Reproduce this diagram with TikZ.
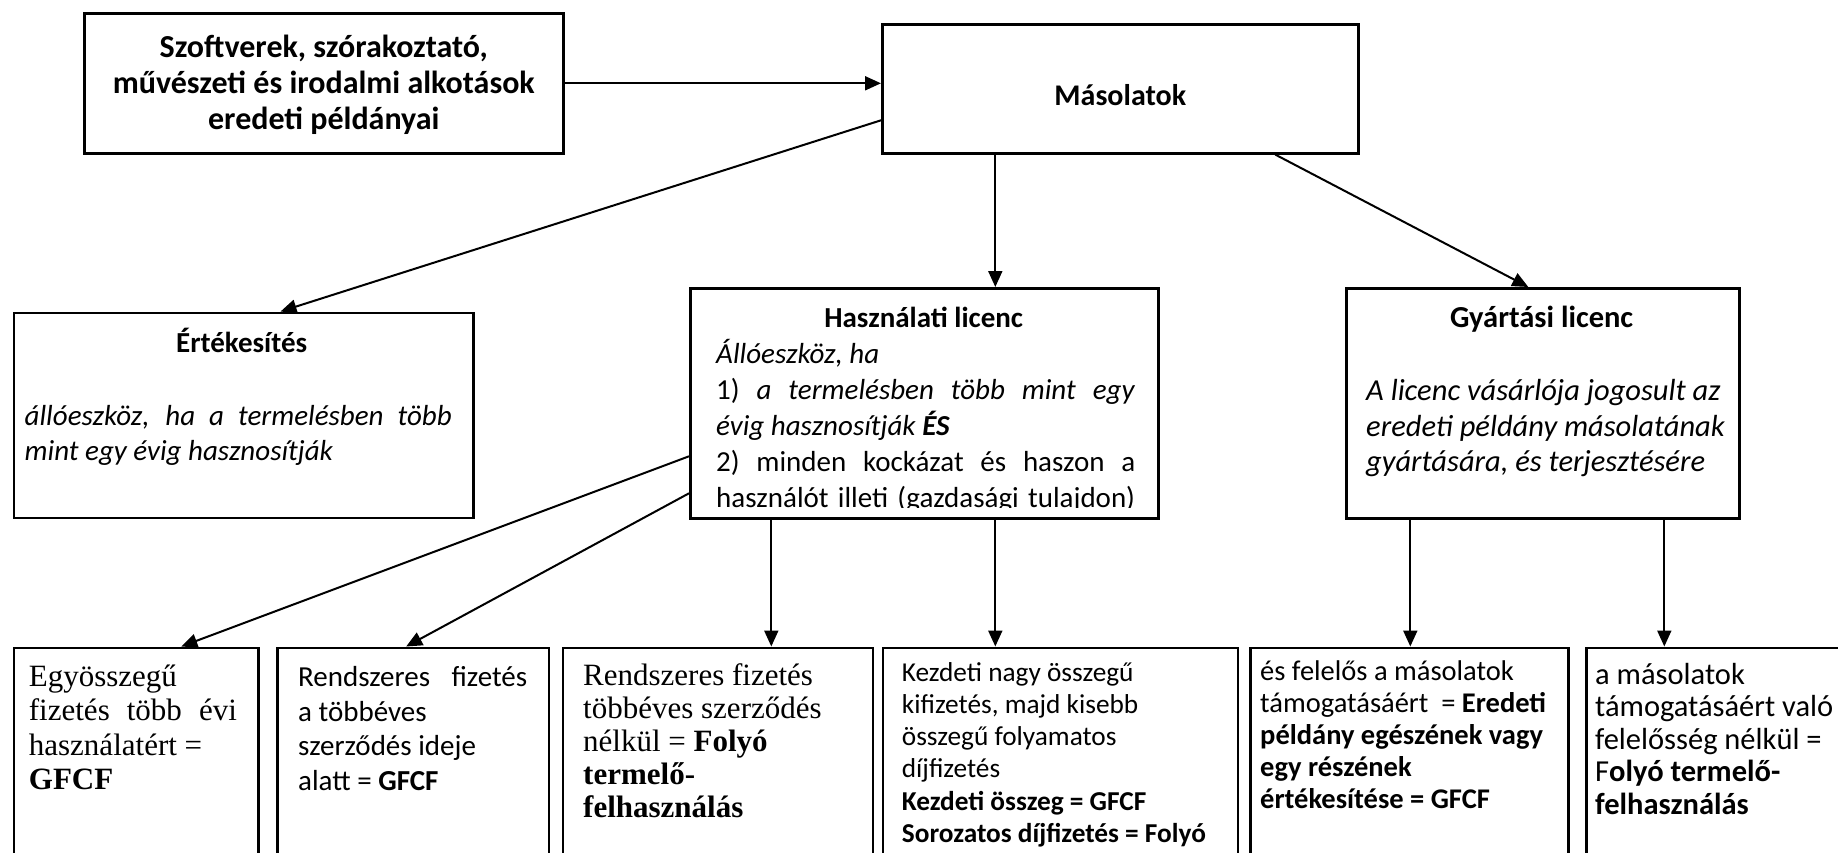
\documentclass[tikz,border=0pt]{standalone}
\usepackage{fontspec}
\setmainfont{Carlito}
\newfontfamily\cambria{Liberation Serif}
\usetikzlibrary{arrows.meta, positioning}

% a line stretched over the whole text width, and a centred line
\newcommand{\fullline}[1]{\makebox[\hsize][s]{#1}}
\newcommand{\midline}[1]{\makebox[\hsize]{#1}}

\tikzset{
  box/.style={draw, line width=2.6pt, anchor=north west, inner sep=0pt},
  txt/.style={anchor=base west, inner sep=0pt, align=justify},
  arr/.style={line width=2pt, -{Triangle[length=16pt,width=14pt]}},
}

\begin{document}
\begin{tikzpicture}[x=1pt, y=-1pt]
\useasboundingbox (0,0) rectangle (1838,853);
\clip (0,0) rectangle (1838,853);

% top row
\node[box, minimum width=479pt, minimum height=140pt] (src) at (83,12) {};
\node[box, minimum width=476pt, minimum height=129pt] (copies) at (881,23) {};
\node[font=\fontsize{32}{36}\selectfont\bfseries, align=center] (srctext) at ([yshift=-1pt]src.center)
  {Szoftverek, szórakoztató,\\ művészeti és irodalmi alkotások\\ eredeti példányai};
\node[font=\fontsize{30}{36}\selectfont\bfseries] (copiestext) at ([yshift=-6pt]copies.center) {Másolatok};

% middle row
\node[box, minimum width=459.5pt, minimum height=205pt] (sale) at (12.5,311.5) {};
\node[box, minimum width=468pt, minimum height=230pt] (uselic) at (689,287) {};
\node[box, minimum width=393pt, minimum height=230pt] (prodlic) at (1345,287) {};

\node[below right=40.5pt and 12pt of sale.north west, txt, text width=427pt,
      font=\fontsize{29}{35}\selectfont] (saletext)
  {\midline{\hspace{7pt}\textbf{Értékesítés}}\\[38pt]
   \fullline{\textit{állóeszköz, ha a termelésben több}}\\
   \textit{mint egy évig hasznosítják}};

\begin{scope}
\clip (uselic.north west) rectangle ([yshift=12pt]uselic.south east);
\node[below right=40pt and 27pt of uselic.north west, txt, text width=419pt,
      font=\fontsize{29}{36}\selectfont] (usetext)
  {\midline{\hspace{-4pt}\textbf{Használati licenc}}\\
   \textit{Állóeszköz, ha}\\
   \fullline{1) \textit{a termelésben több mint egy}}\\
   \textit{évig hasznosítják \textbf{ÉS}}\\
   \fullline{2) minden kockázat és haszon a}\\
   \fullline{használót illeti (gazdasági tulajdon)}};
\end{scope}

\node[below right=40pt and 21pt of prodlic.north west, txt, text width=372pt,
      font=\fontsize{30.5}{35.5}\selectfont] (prodtext)
  {\midline{\hspace{-21pt}\textbf{Gyártási licenc}}\\[38pt]
   \textit{A licenc vásárlója jogosult az}\\
   \textit{eredeti példány másolatának}\\
   \textit{gyártására, és terjesztésére}};

% bottom row
\node[box, minimum width=244.6pt, minimum height=260pt] (b1) at (12.7,646.5) {};
\node[box, minimum width=271.7pt, minimum height=260pt] (b2) at (276,646.5) {};
\node[box, minimum width=310pt, minimum height=260pt] (b3) at (561.7,646.5) {};
\node[box, minimum width=355pt, minimum height=260pt] (b4) at (881.7,646.5) {};
\node[box, minimum width=318pt, minimum height=260pt] (b5) at (1249.3,646.5) {};
\node[box, minimum width=300pt, minimum height=260pt] (b6) at (1585.3,646.5) {};

\node[below right=39.5pt and 16pt of b1.north west, txt, text width=208pt,
      font=\cambria\fontsize{31}{34.5}\selectfont] (b1text)
  {Egyösszegű\\ \fullline{fizetés több évi}\\ használatért =\\ \textbf{GFCF}};
\node[below right=40pt and 22pt of b2.north west, txt, text width=229pt,
      font=\fontsize{29}{34.5}\selectfont] (b2text)
  {\fullline{Rendszeres fizetés}\\ a többéves\\ szerződés ideje\\ alatt = \textbf{GFCF}};
\node[below right=39pt and 21.3pt of b3.north west, txt, text width=275pt,
      font=\cambria\fontsize{31}{33}\selectfont] (b3text)
  {Rendszeres fizetés\\ többéves szerződés\\ nélkül = \textbf{Folyó}\\
   \textbf{termelő-}\\ \textbf{felhasználás}};
\node[below right=34.5pt and 20pt of b4.north west, txt, text width=330pt,
      font=\fontsize{27.3}{32.3}\selectfont] (b4text)
  {Kezdeti nagy összegű\\ kifizetés, majd kisebb\\ összegű folyamatos\\ díjfizetés\\
   \textbf{Kezdeti összeg = GFCF}\\ \textbf{Sorozatos díjfizetés = Folyó}};
\node[below right=33.5pt and 10.7pt of b5.north west, txt, text width=300pt,
      font=\fontsize{28.5}{32}\selectfont] (b5text)
  {és felelős a másolatok\\ támogatásáért\ \ = \textbf{Eredeti}\\
   \textbf{példány egészének vagy}\\ \textbf{egy részének}\\ \textbf{értékesítése = GFCF}};
\node[below right=37.5pt and 9.7pt of b6.north west, txt, text width=300pt,
      font=\fontsize{30.5}{32.5}\selectfont] (b6text)
  {a másolatok\\ támogatásáért való\\ felelősség nélkül =\\
   F\textbf{olyó termelő-}\\ \textbf{felhasználás}};

% connectors
\draw[arr] (src.east) -- (src.east -| copies.west);
\draw[arr] ([yshift=-31.5pt]copies.west) -- ([xshift=37pt]sale.north);
\draw[arr] ([xshift=-125pt]copies.south) -- ([xshift=-125pt]copies.south |- uselic.north);
\draw[arr] ([xshift=155pt]copies.south) -- ([xshift=-14.5pt]prodlic.north);
\draw[arr] ([yshift=-53pt]uselic.west) -- ([xshift=45pt]b1.north);
\draw[arr] ([yshift=-90pt]uselic.west) -- ([xshift=-7pt]b2.north);
\draw[arr] ([xshift=-153pt]uselic.south) -- ([xshift=-153pt]uselic.south |- b3.north);
\draw[arr] ([xshift=71pt]uselic.south) -- ([xshift=71pt]uselic.south |- b4.north);
\draw[arr] ([xshift=-132.5pt]prodlic.south) -- ([xshift=-132.5pt]prodlic.south |- b5.north);
\draw[arr] ([xshift=121.5pt]prodlic.south) -- ([xshift=121.5pt]prodlic.south |- b6.north);
\end{tikzpicture}
\end{document}
